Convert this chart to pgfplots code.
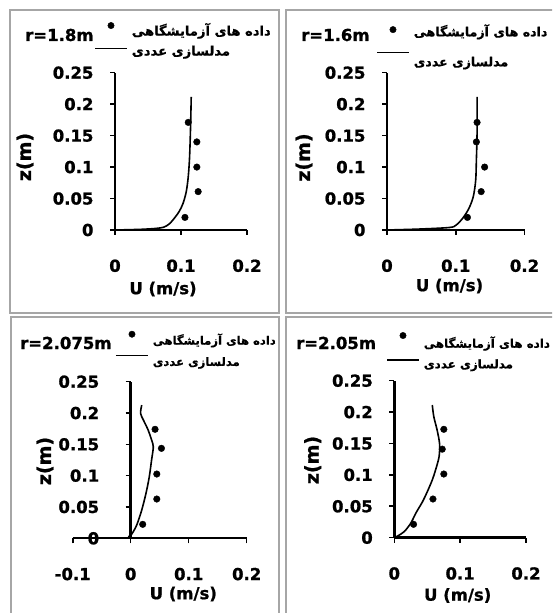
\documentclass[border=0pt]{standalone}
\usepackage{pgfplots}
\pgfplotsset{compat=1.18}
\usepackage{fontspec}
\setmainfont{DejaVu Sans}[BoldFeatures={FakeBold=1}]
\newfontfamily\fa[Script=Arabic, BoldFeatures={FakeBold=0.6}]{DejaVu Sans}
\TeXXeTstate=1
\definecolor{frame}{HTML}{A6A6A6}
\newcommand{\lab}{\fontsize{16.5}{18}\selectfont\bfseries}
\newcommand{\zlab}{\fontsize{19}{20}\selectfont\bfseries}
\pgfplotsset{
  panel/.style={
    scale only axis, anchor=south west,
    axis x line*=bottom, axis y line*=left,
    axis line style={line width=2.4pt, black},
    tick style={line width=1.6pt, black},
    major tick length=5pt,
    tick align=outside,
    ymin=0, ymax=0.25,
    ytick={0,0.05,0.1,0.15,0.2,0.25},
    yticklabels={0,0.05,0.1,0.15,0.2,0.25},
    /pgf/number format/assume math mode=true,
    ticklabel style={font=\lab},
    yticklabel style={xshift=-13pt},
    xticklabel style={yshift=-21pt},
    clip=false,
    legend style={draw=none, fill=none, anchor=north west, inner sep=0pt,
      nodes={inner sep=0pt, text height=10pt, text depth=3pt},
      /tikz/every odd column/.append style={column sep=4pt}},
    legend cell align=left,
  },
  dots/.style={only marks, mark=*, mark size=3.3pt, black,
    legend image code/.code={\path (0pt,0pt) (32pt,0pt); \fill[black, overlay] (16pt,#1) circle (3.2pt);}},
  curve/.style={black, line width=1.6pt, no marks, smooth,
    legend image code/.code={\path (0pt,0pt) (32pt,0pt); \draw[black,line width=1.6pt, overlay] (0pt,#1) -- (32pt,#1);}},
}
\begin{document}
\begin{tikzpicture}[x=1pt,y=1pt]
\path[use as bounding box] (0,0) rectangle (552,613);
\clip (0,0) rectangle (552,613);
% panel frames
\draw[frame, line width=1.5pt] (10,603) rectangle (279,300);
\draw[frame, line width=1.5pt] (286,603) rectangle (570,300);
\draw[frame, line width=1.5pt] (11,296) rectangle (279,-20);
\draw[frame, line width=1.5pt] (286,296) rectangle (570,-20);

% ---------- top left r=1.8m
\begin{axis}[panel, at={(115pt,383pt)}, width=132pt, height=157.3pt,
  xmin=0, xmax=0.2, xtick={0,0.1,0.2}, xticklabels={0,0.1,0.2},
  legend style={at={(-0.159,1.301)}, font=\fontsize{13.1}{14}\selectfont\bfseries\fa, row sep=7pt}]
\addplot[dots=6.5pt] coordinates {(0.111,0.171) (0.124,0.140) (0.124,0.100) (0.126,0.061) (0.106,0.020)};
\addlegendentry{\beginR داده های آزمایشگاهی\endR}
\addplot[curve=3.5pt] coordinates {(0,0) (0.038,0.001) (0.062,0.0025) (0.074,0.0045) (0.082,0.0095) (0.089,0.0175) (0.097,0.029) (0.103,0.042) (0.108,0.061) (0.111,0.085) (0.113,0.116) (0.1145,0.164) (0.1155,0.2116)};
\addlegendentry{\beginR مدلسازی عددی\endR}
\end{axis}
\node[anchor=west, font=\lab, inner sep=0pt] at (25,578) {r=1.8m};
\node[font=\lab] at (163,324) {U (m/s)};
\node[font=\zlab, rotate=90] at (25,456) {z(m)};

% ---------- top right r=1.6m
\begin{axis}[panel, at={(387pt,383pt)}, width=137.5pt, height=157.3pt,
  xmin=0, xmax=0.2, xtick={0,0.1,0.2}, xticklabels={0,0.1,0.2},
  legend style={at={(-0.08,1.296)}, font=\fontsize{12.6}{14}\selectfont\bfseries\fa, row sep=17pt}]
\addplot[dots=3.2pt] coordinates {(0.131,0.171) (0.130,0.140) (0.142,0.100) (0.137,0.061) (0.117,0.020)};
\addlegendentry{\beginR داده های آزمایشگاهی\endR}
\addplot[curve=10.2pt] coordinates {(0,0) (0.047,0.0015) (0.091,0.004) (0.1007,0.008) (0.110,0.0185) (0.119,0.034) (0.1255,0.053) (0.129,0.079) (0.130,0.111) (0.131,0.153) (0.131,0.2116)};
\addlegendentry{\beginR مدلسازی عددی\endR}
\end{axis}
\node[anchor=west, font=\lab, inner sep=0pt] at (301,578) {r=1.6m};
\node[font=\lab] at (449.5,327) {U (m/s)};
\node[font=\zlab, rotate=90] at (304,455.5) {z(m)};

% ---------- bottom left r=2.075m
\begin{axis}[panel, at={(72.7pt,74.7pt)}, width=174pt, height=156.6pt,
  axis y line*=middle,
  hide obscured x ticks=false, hide obscured y ticks=false,
  yticklabel style={xshift=-10pt},
  xmin=-0.1, xmax=0.2, xtick={-0.1,0,0.1,0.2}, xticklabels={-0.1,0,0.1,0.2},
  legend style={at={(0.243,1.302)}, font=\fontsize{11.6}{14}\selectfont\bfseries\fa, row sep=8.3pt}]
\addplot[dots=6.9pt] coordinates {(0.042,0.174) (0.053,0.1436) (0.045,0.1026) (0.045,0.0627) (0.0207,0.0223)};
\addlegendentry{\beginR داده های آزمایشگاهی\endR}
\addplot[curve=7pt] coordinates {(0,0) (-0.003,0.003) (0.002,0.007) (0.0103,0.021) (0.019,0.045) (0.0264,0.072) (0.032,0.098) (0.036,0.125) (0.039,0.146) (0.036,0.157) (0.030,0.173) (0.0218,0.189) (0.017,0.1994) (0.019,0.2127)};
\addlegendentry{\beginR مدلسازی عددی\endR}
\end{axis}
\node[anchor=west, font=\lab, inner sep=0pt] at (20,270) {r=2.075m};
\node[font=\lab] at (183.3,19) {U (m/s)};
\node[font=\zlab, rotate=90] at (45,152) {z(m)};

% ---------- bottom right r=2.05m
\begin{axis}[panel, at={(394.3pt,75.3pt)}, width=131.7pt, height=157pt,
  xmin=0, xmax=0.2, xtick={0,0.1,0.2}, xticklabels={0,0.1,0.2},
  legend style={at={(-0.063,1.275)}, font=\fontsize{11.9}{14}\selectfont\bfseries\fa, row sep=7.6pt}]
\addplot[dots=8.7pt] coordinates {(0.0752,0.1726) (0.0728,0.141) (0.0752,0.1014) (0.0587,0.0616) (0.0292,0.0213)};
\addlegendentry{\beginR داده های آزمایشگاهی\endR}
\addplot[curve=4.7pt] coordinates {(0,0) (0.005,0.0027) (0.015,0.0096) (0.025,0.023) (0.0326,0.0389) (0.0427,0.057) (0.050,0.073) (0.0577,0.092) (0.0627,0.108) (0.068,0.129) (0.0687,0.150) (0.065,0.1715) (0.060,0.1927) (0.0577,0.2113)};
\addlegendentry{\beginR مدلسازی عددی\endR}
\end{axis}
\node[anchor=west, font=\lab, inner sep=0pt] at (296,270) {r=2.05m};
\node[font=\lab] at (457.7,17.5) {U (m/s)};
\node[font=\zlab, rotate=90] at (312.7,153) {z(m)};
\end{tikzpicture}
\end{document}
